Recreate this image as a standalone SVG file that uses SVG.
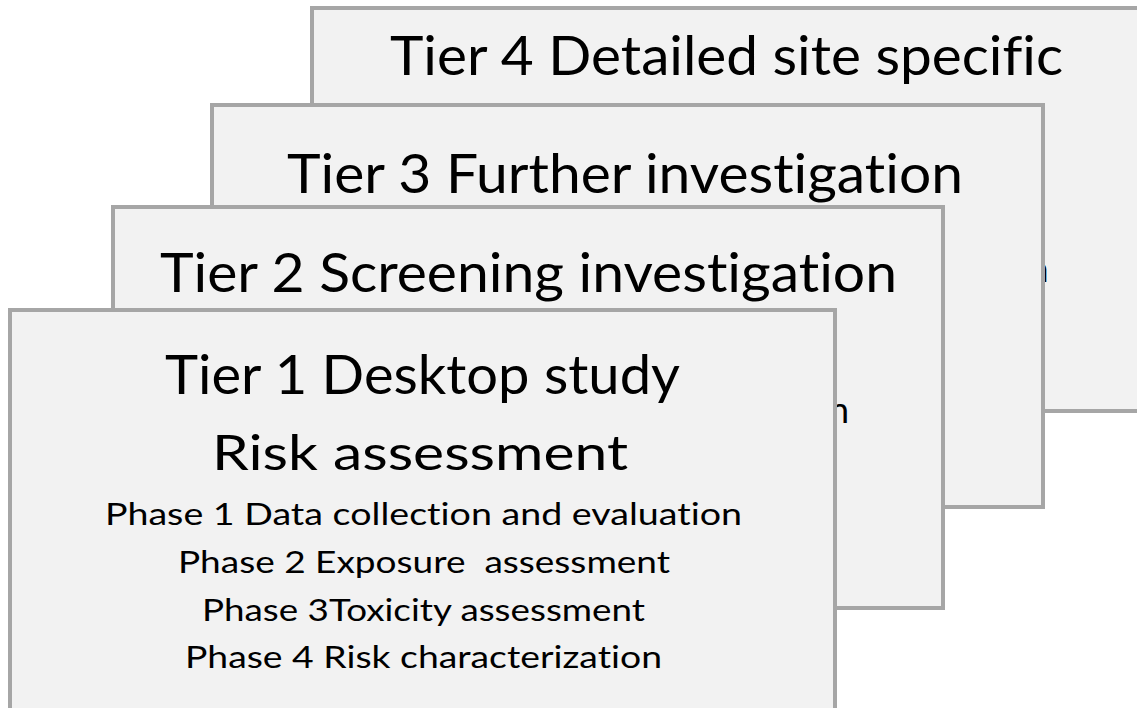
<svg xmlns="http://www.w3.org/2000/svg" width="1137" height="708" viewBox="0 0 1137 708">
<style>
.box{fill:#f2f2f2;stroke:#a6a6a6;stroke-width:4}
.t{font-family:Lato,"Open Sans","Liberation Sans",sans-serif;fill:#000;font-variant-ligatures:none;font-feature-settings:"liga" 0,"clig" 0,"dlig" 0}
.big{font-size:54px}
.mid{font-size:49px}
.sm{font-size:31px}
</style>
<rect width="1137" height="708" fill="#ffffff"/>
<g id="tier4">
<rect class="box" x="312" y="8" width="832" height="403"/>
<text class="t big" x="390" y="75" textLength="673" lengthAdjust="spacingAndGlyphs">Tier 4 Detailed site specific</text>
<text class="t" x="1048.5" y="282" font-size="36" text-anchor="end" fill="#1a1a50">n</text>
</g>
<g id="tier3">
<rect class="box" x="212" y="105" width="831" height="402"/>
<text class="t big" x="287" y="193" textLength="676" lengthAdjust="spacingAndGlyphs">Tier 3 Further investigation</text>
</g>
<g id="tier2">
<rect class="box" x="113" y="207" width="830" height="401"/>
<text class="t big" x="160" y="292" textLength="737" lengthAdjust="spacingAndGlyphs">Tier 2 Screening investigation</text>
<text class="t" x="849" y="423" font-size="36" text-anchor="end">n</text>
</g>
<g id="tier1">
<rect class="box" x="10" y="310" width="825" height="404"/>
<text class="t big" x="165" y="394" textLength="515" lengthAdjust="spacingAndGlyphs">Tier 1 Desktop study</text>
<text class="t mid" x="212" y="470" textLength="416" lengthAdjust="spacingAndGlyphs">Risk assessment</text>
<text class="t sm" x="105" y="525" textLength="637" lengthAdjust="spacingAndGlyphs">Phase 1 Data collection and evaluation</text>
<text class="t sm" x="178" y="573" textLength="492" lengthAdjust="spacingAndGlyphs" xml:space="preserve">Phase 2 Exposure  assessment</text>
<text class="t sm" x="202" y="621" textLength="443" lengthAdjust="spacingAndGlyphs">Phase 3Toxicity assessment</text>
<text class="t sm" x="185" y="668" textLength="477" lengthAdjust="spacingAndGlyphs">Phase 4 Risk characterization</text>
</g>
<g id="connectors"/>
</svg>
